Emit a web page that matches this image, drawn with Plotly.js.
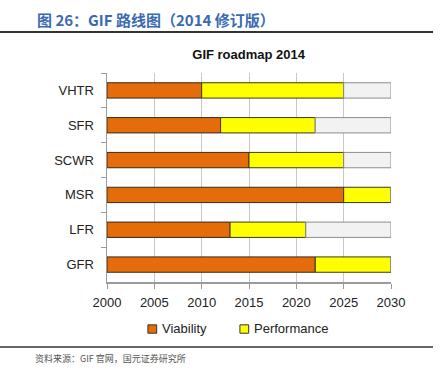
<!DOCTYPE html>
<html><head><meta charset="utf-8">
<script src="https://cdn.plot.ly/plotly-3.0.1.min.js"></script>
<style>body{margin:0;padding:0;background:#fff}#c{width:448px;height:370px}</style>
</head><body><div id="c"></div>
<script>
const categories = ["VHTR", "SFR", "SCWR", "MSR", "LFR", "GFR"];
const startYear = 2000;
const endYear = 2030;
const viabilityEnd = [2010, 2012, 2015, 2025, 2013, 2022];
const performanceEnd = [2025, 2022, 2025, 2030, 2021, 2030];
const xTicks = [2000, 2005, 2010, 2015, 2020, 2025, 2030];
const seriesNames = ["Viability", "Performance"];
const seriesColors = ["#E46C0A", "#FFFF00"];

const viaLen = viabilityEnd.map(v => v - startYear);
const perfLen = performanceEnd.map((p, i) => p - viabilityEnd[i]);
const restLen = performanceEnd.map(p => endYear - p);

const traces = [
  {type:'bar', orientation:'h', name:seriesNames[0], y:categories, x:viaLen,
   base:categories.map(()=>startYear), width:0.44, showlegend:false,
   marker:{color:seriesColors[0], line:{color:'#3a2a1a', width:1}}, hoverinfo:'skip'},
  {type:'bar', orientation:'h', name:seriesNames[1], y:categories, x:perfLen,
   base:viabilityEnd, width:0.44, showlegend:false,
   marker:{color:seriesColors[1], line:{color:'#3a3a1a', width:1}}, hoverinfo:'skip'},
  {type:'bar', orientation:'h', name:'', y:categories, x:restLen,
   base:performanceEnd, width:0.44, showlegend:false,
   marker:{color:'#F2F2F2', line:{color:'#8c8c8c', width:1}}, hoverinfo:'skip'}
];

// legend drawn as small squares + labels (paper coords)
const legX = [0.144, 0.468];
const legSquares = legX.map((x, i) => ({type:'rect', xref:'paper', yref:'paper',
  x0:x, x1:x+0.031, y0:-0.205, y1:-0.245, fillcolor:seriesColors[i],
  line:{color:'#333', width:1}}));
const legLabels = legX.map((x, i) => ({xref:'paper', yref:'paper', x:x+0.043, y:-0.224,
  xanchor:'left', yanchor:'middle', showarrow:false, text:seriesNames[i],
  font:{size:13, color:'#222'}}));

const layout = {
  width:448, height:370,
  margin:{l:107, r:57, t:73, b:88},
  paper_bgcolor:'#fff', plot_bgcolor:'#fff',
  font:{family:'Liberation Sans, Arial, sans-serif', size:13, color:'#222'},
  barmode:'overlay',
  showlegend:false,
  title:{text:'<b>GIF roadmap 2014</b>', x:0.555, xanchor:'center', y:0.853, yanchor:'middle',
         font:{size:13, color:'#111', family:'Liberation Sans, Arial, sans-serif'}},
  xaxis:{range:[startYear, endYear], tickvals:xTicks, ticktext:xTicks.map(String),
         showgrid:true, gridcolor:'#c8c8c8', gridwidth:1, zeroline:false,
         showline:true, linecolor:'#9a9a9a', linewidth:1.5,
         ticks:'outside', ticklen:5, tickcolor:'#9a9a9a', ticklabelstandoff:3,
         tickfont:{size:13, color:'#222'}},
  yaxis:{type:'category', categoryorder:'array', categoryarray:categories, autorange:'reversed',
         showgrid:false, zeroline:false, showline:true, linecolor:'#9a9a9a', linewidth:1.5,
         ticks:'outside', tickson:'boundaries', ticklen:5, tickcolor:'#9a9a9a',
         ticklabelstandoff:9, tickfont:{size:13, color:'#222'}},
  annotations:[
    {xref:'paper', yref:'paper', x:-0.254, y:1.258, xanchor:'left', yanchor:'middle', showarrow:false,
     text:'<b>图 26：GIF 路线图（2014 修订版）</b>',
     font:{family:'Noto Sans CJK SC, sans-serif', size:15, color:'#3A6AB0'}},
    {xref:'paper', yref:'paper', x:-0.261, y:-0.368, xanchor:'left', yanchor:'middle', showarrow:false,
     text:'资料来源：GIF 官网，国元证券研究所',
     font:{family:'Noto Sans CJK SC, sans-serif', size:9, color:'#555'}}
  ].concat(legLabels),
  shapes:[
    {type:'line', xref:'paper', yref:'paper', x0:-0.377, x1:1.148, y0:1.196, y1:1.196,
     line:{color:'#333', width:2}},
    {type:'line', xref:'paper', yref:'paper', x0:-0.377, x1:1.148, y0:-0.311, y1:-0.311,
     line:{color:'#333', width:1.5}}
  ].concat(legSquares)
};
Plotly.newPlot('c', traces, layout, {displayModeBar:false, staticPlot:true});
</script></body></html>
